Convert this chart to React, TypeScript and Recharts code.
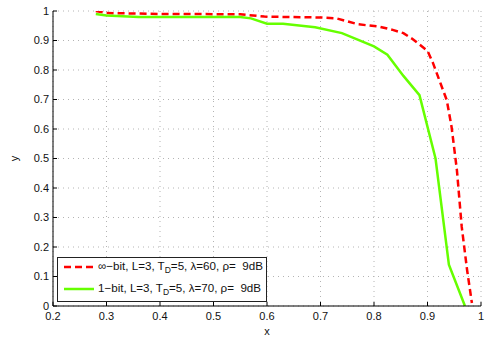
import React from 'react';
import { LineChart, Line, XAxis, YAxis, CartesianGrid, Legend } from 'recharts';

const redX = [0.28, 0.3, 0.4, 0.55, 0.595, 0.7, 0.73, 0.77, 0.81, 0.835, 0.855, 0.872, 0.9, 0.91, 0.922, 0.936, 0.945, 0.955, 0.964, 0.974, 0.983];
const redY = [1.0, 0.993, 0.99, 0.989, 0.981, 0.978, 0.975, 0.955, 0.947, 0.936, 0.925, 0.905, 0.865, 0.825, 0.766, 0.698, 0.607, 0.46, 0.268, 0.122, 0.01];
const greenX = [0.28, 0.3, 0.36, 0.5, 0.55, 0.57, 0.6, 0.63, 0.69, 0.74, 0.8, 0.825, 0.855, 0.885, 0.915, 0.94, 0.97];
const greenY = [0.99, 0.985, 0.98, 0.98, 0.98, 0.975, 0.957, 0.957, 0.945, 0.925, 0.88, 0.852, 0.78, 0.715, 0.5, 0.14, 0.0];
const xTicks = [0.2, 0.3, 0.4, 0.5, 0.6, 0.7, 0.8, 0.9, 1];
const yTicks = [0, 0.1, 0.2, 0.3, 0.4, 0.5, 0.6, 0.7, 0.8, 0.9, 1];

const redData = redX.map((x, i) => ({ x, y: redY[i] }));
const greenData = greenX.map((x, i) => ({ x, y: greenY[i] }));

const FONT = '"Liberation Sans", Arial, sans-serif';
const tickStyle = { fontFamily: FONT, fontSize: 11, fill: '#111' };

const LegendBox = () => (
  <div
    style={{
      background: '#fff',
      border: '1px solid #222',
      width: 210,
      height: 45,
      boxSizing: 'border-box',
      fontFamily: FONT,
      fontSize: 11.6,
      color: '#111',
      position: 'relative',
    }}
  >
    {[
      { color: '#ff0000', dash: '7 4', label: '\u221e\u2212bit, L=3, T', lam: '60' },
      { color: '#66ff00', dash: undefined, label: '1\u2212bit, L=3, T', lam: '70' },
    ].map((e, i) => (
      <div key={i} style={{ position: 'absolute', left: 5, top: 1 + i * 22, height: 16, display: 'flex', alignItems: 'center', whiteSpace: 'pre' }}>
        <svg width={32} height={6} style={{ marginRight: 3 }}>
          <line x1={1} y1={3} x2={31} y2={3} stroke={e.color} strokeWidth={2.5} strokeDasharray={e.dash} />
        </svg>
        <span>
          {e.label}
          <sub style={{ fontSize: 8.5, verticalAlign: -3 }}>D</sub>
          {'=5, \u03bb=' + e.lam + ', \u03c1=  9dB'}
        </span>
      </div>
    ))}
  </div>
);

export default function App() {
  return (
    <div style={{ position: 'absolute', left: 0, top: 0, background: '#fff' }}>
      <LineChart width={491} height={341} margin={{ top: 11, right: 10, bottom: 0, left: 0 }}>
        <CartesianGrid stroke="#b4b4b4" strokeDasharray="1 4" />
        <XAxis
          dataKey="x"
          type="number"
          domain={[0.2, 1]}
          ticks={xTicks}
          allowDataOverflow
          height={35}
          stroke="#000"
          tick={tickStyle}
          tickSize={-4}
          tickMargin={10}
          label={(p: any) => {
            const vb = p.viewBox || {};
            return (
              <text x={vb.x + vb.width / 2} y={vb.y + 29} textAnchor="middle" style={tickStyle}>x</text>
            );
          }}
        />
        <XAxis
          xAxisId="top"
          orientation="top"
          type="number"
          domain={[0.2, 1]}
          ticks={xTicks}
          height={0}
          stroke="#000"
          tickSize={-4}
          tickFormatter={() => ''}
        />
        <YAxis
          type="number"
          domain={[0, 1]}
          ticks={yTicks}
          allowDataOverflow
          width={53}
          stroke="#000"
          tick={tickStyle}
          tickSize={-4}
          tickMargin={8}
          label={(p: any) => {
            const vb = p.viewBox || {};
            const cx = vb.x + 18;
            const cy = vb.y + vb.height / 2;
            return (
              <text x={cx} y={cy} textAnchor="middle" transform={`rotate(-90, ${cx}, ${cy})`} style={tickStyle}>y</text>
            );
          }}
        />
        <YAxis
          yAxisId="right"
          orientation="right"
          type="number"
          domain={[0, 1]}
          ticks={yTicks}
          width={0}
          stroke="#000"
          tickSize={-4}
          tickFormatter={() => ''}
        />
        <Legend
          layout="horizontal"
          verticalAlign="middle"
          align="center"
          content={() => <LegendBox />}
          wrapperStyle={{ position: 'absolute', left: 57, top: 257, width: 210, height: 45 }}
        />
        <Line data={redData} dataKey="y" type="linear" stroke="#ff0000" strokeWidth={2.5} strokeDasharray="7 4" dot={false} isAnimationActive={false} />
        <Line data={greenData} dataKey="y" type="linear" stroke="#66ff00" strokeWidth={2.5} dot={false} isAnimationActive={false} />
      </LineChart>
    </div>
  );
}
